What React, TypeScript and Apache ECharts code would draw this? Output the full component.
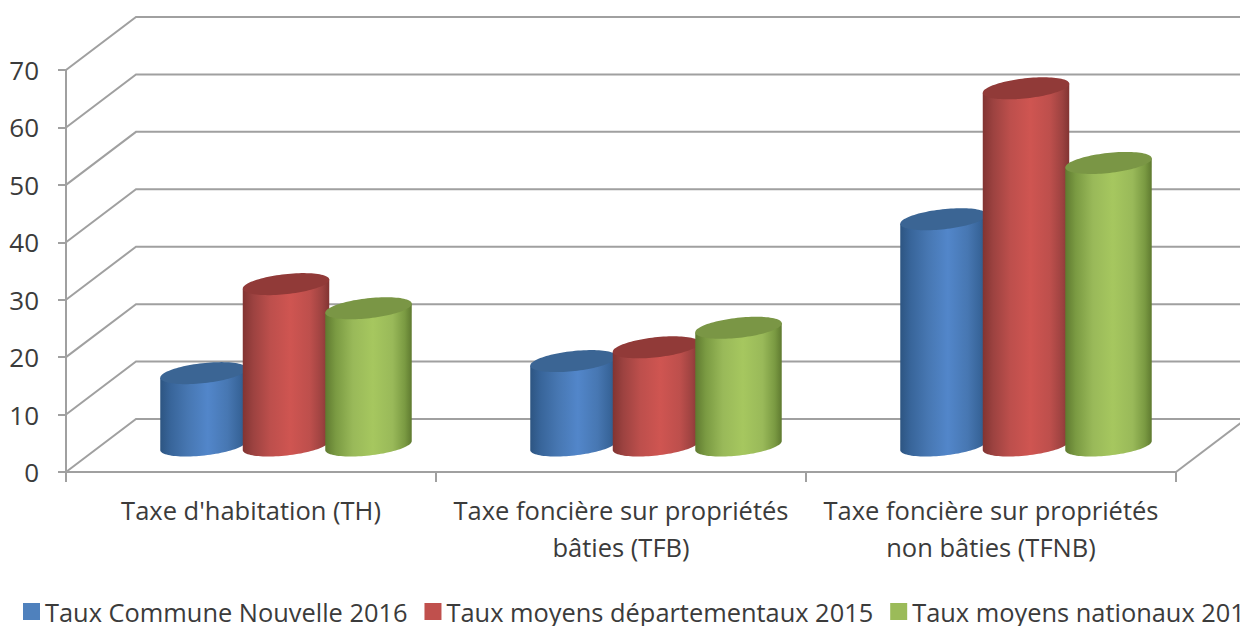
import React, { useEffect, useRef } from "react";
import * as echarts from "echarts";

const categories = [
  "Taxe d'habitation (TH)",
  "Taxe foncière sur propriétés\nbâties (TFB)",
  "Taxe foncière sur propriétés\nnon bâties (TFNB)",
];
const communeNouvelle2016 = [12.6, 14.7, 39.4];
const moyensDepartementaux2015 = [28.1, 17.1, 62.2];
const moyensNationaux2015 = [23.9, 20.5, 49.2];
const gridValues = [0, 10, 20, 30, 40, 50, 60, 70];

const seriesNames = [
  "Taux Commune Nouvelle 2016",
  "Taux moyens départementaux 2015",
  "Taux moyens nationaux 2015",
];

const FONT = "'Open Sans', sans-serif";
const TEXT = "#3b3b3b";
const LINE = "#a0a0a0";
const DEPTH_X = 70;
const DEPTH_Y = 53;
const STEP = 82.5;
const RX = 43.5;
const RY = 10;
const TILT = (6.3 * Math.PI) / 180;

function grad(stops: string[]) {
  return {
    type: "linear",
    x: 0,
    y: 0,
    x2: 1,
    y2: 0,
    colorStops: stops.map((color, i) => ({ offset: [0, 0.12, 0.32, 0.55, 0.78, 0.92, 1][i], color })),
  };
}

const palettes = [
  {
    legend: "#4f81bd",
    top: "#3b6594",
    body: ["#2d5582", "#38659a", "#4777b2", "#5286ca", "#4777b2", "#38659a", "#2d5582"],
  },
  {
    legend: "#c0504d",
    top: "#913a38",
    body: ["#823432", "#9c4240", "#bd4f4c", "#cf5551", "#bd4f4c", "#9c4240", "#823432"],
  },
  {
    legend: "#9bbb59",
    top: "#7a9645",
    body: ["#5f7a30", "#7a9a42", "#99b959", "#a6c75f", "#99b959", "#7a9a42", "#5f7a30"],
  },
];

function ellipsePoint(cx: number, cy: number, t: number) {
  const ex = RX * Math.cos(t);
  const ey = RY * Math.sin(t);
  return [cx + ex * Math.cos(TILT) + ey * Math.sin(TILT), cy - ex * Math.sin(TILT) + ey * Math.cos(TILT)];
}

function cylinderRenderer(seriesIndex: number) {
  return (_params: any, api: any) => {
    const top = api.coord([api.value(0), api.value(1)]);
    const base = api.coord([api.value(0), 0]);
    const cx = top[0] + DEPTH_X / 2 + (seriesIndex - 1) * STEP;
    const topY = top[1] - DEPTH_Y / 2;
    const baseY = base[1] - DEPTH_Y / 2;
    const body: number[][] = [];
    for (let i = 0; i <= 48; i++) body.push(ellipsePoint(cx, baseY, (i / 48) * Math.PI));
    const r = ellipsePoint(cx, topY, Math.PI);
    const l = ellipsePoint(cx, topY, 0);
    body.push(r, l);
    const cap: number[][] = [];
    for (let i = 0; i < 96; i++) cap.push(ellipsePoint(cx, topY, (i / 96) * Math.PI * 2));
    return {
      type: "group",
      children: [
        { type: "polygon", shape: { points: body }, style: { fill: grad(palettes[seriesIndex].body) } },
        { type: "polygon", shape: { points: cap }, style: { fill: palettes[seriesIndex].top } },
      ],
    };
  };
}

function gridRenderer(params: any, api: any) {
  const v = api.value(1);
  const p = api.coord([0, v]);
  const cs = params.coordSys;
  const children: any[] = [
    {
      type: "polyline",
      shape: {
        points: [
          [cs.x, p[1]],
          [cs.x + DEPTH_X, p[1] - DEPTH_Y],
          [cs.x + cs.width + DEPTH_X, p[1] - DEPTH_Y],
        ],
      },
      style: { stroke: LINE, lineWidth: 2, fill: "none" },
    },
  ];
  if (v === 0) {
    children.push({
      type: "line",
      shape: { x1: cs.x + cs.width, y1: p[1], x2: cs.x + cs.width + DEPTH_X, y2: p[1] - DEPTH_Y },
      style: { stroke: LINE, lineWidth: 2 },
    });
  }
  return { type: "group", children };
}

export default function App() {
  const ref = useRef<HTMLDivElement>(null);
  useEffect(() => {
    document.body.style.margin = "0";
    document.body.style.overflow = "hidden";
    const chart = echarts.init(ref.current!, undefined, { renderer: "svg" });
    const values = [communeNouvelle2016, moyensDepartementaux2015, moyensNationaux2015];
    chart.setOption({
      animation: false,
      backgroundColor: "#ffffff",
      textStyle: { fontFamily: FONT },
      grid: { left: 66, right: 64, top: 70, bottom: 154, containLabel: false },
      legend: {
        data: seriesNames,
        left: 23,
        top: 599,
        padding: 0,
        width: 2000,
        orient: "horizontal",
        icon: "rect",
        itemWidth: 17,
        itemHeight: 17,
        itemGap: 17,
        selectedMode: false,
        textStyle: { fontFamily: FONT, fontSize: 25.4, color: TEXT },
      },
      xAxis: {
        type: "category",
        data: categories,
        boundaryGap: true,
        axisLine: { show: true, lineStyle: { color: LINE, width: 2 } },
        axisTick: { show: true, length: 10, alignWithLabel: false, lineStyle: { color: LINE, width: 2 } },
        axisLabel: {
          fontFamily: FONT,
          fontSize: 25.5,
          color: TEXT,
          margin: 19,
          lineHeight: 37,
          interval: 0,
        },
      },
      yAxis: {
        type: "value",
        min: 0,
        max: 70,
        interval: 10,
        splitLine: { show: false },
        axisLine: { show: true, lineStyle: { color: LINE, width: 2 } },
        axisTick: { show: true, length: 8, lineStyle: { color: LINE, width: 2 } },
        axisLabel: { fontFamily: FONT, fontSize: 26, color: TEXT, margin: 27 },
      },
      series: [
        {
          type: "custom",
          name: "grille",
          silent: true,
          clip: false,
          z: 1,
          renderItem: gridRenderer,
          encode: { x: 0, y: 1 },
          data: gridValues.map((v) => [0, v]),
        },
        ...seriesNames.map((name, i) => ({
          type: "custom",
          name,
          clip: false,
          silent: true,
          z: 2 + i,
          itemStyle: { color: palettes[i].legend },
          renderItem: cylinderRenderer(i),
          encode: { x: 0, y: 1 },
          data: values[i].map((v, c) => [c, v]),
        })),
      ],
    });
    return () => chart.dispose();
  }, []);
  return <div ref={ref} style={{ width: 1240, height: 626 }} />;
}
